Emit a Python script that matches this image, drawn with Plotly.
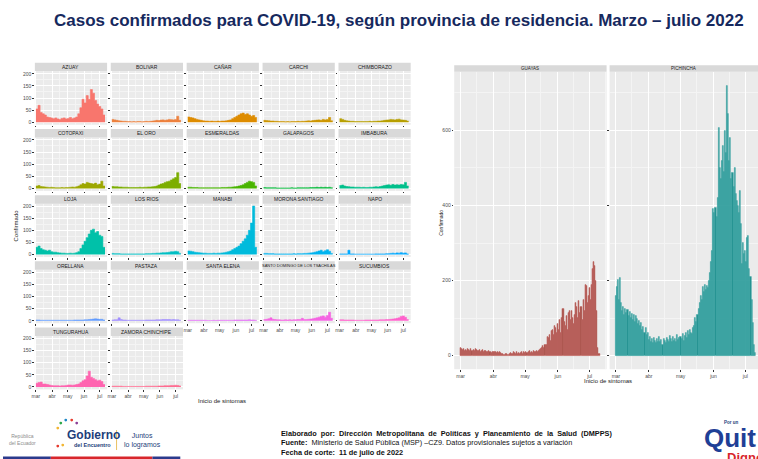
"""
Casos confirmados COVID-19 por provincia de residencia, marzo - julio 2022
Recreated as a faceted Plotly figure (ggplot-like look)
"""

import math
import datetime as dt
import plotly.graph_objects as go

W, H = 758, 459

# ---- data -------------------------------------------------------------
# small multiples: values every 4 days starting 2022-03-01
small_provinces = ['AZUAY', 'BOLIVAR', 'CAÑAR', 'CARCHI', 'CHIMBORAZO',
                   'COTOPAXI', 'EL ORO', 'ESMERALDAS', 'GALAPAGOS', 'IMBABURA',
                   'LOJA', 'LOS RIOS', 'MANABI', 'MORONA SANTIAGO', 'NAPO',
                   'ORELLANA', 'PASTAZA', 'SANTA ELENA', 'SANTO DOMINGO DE LOS TSACHILAS', 'SUCUMBIOS',
                   'TUNGURAHUA', 'ZAMORA CHINCHIPE']
# position of each province in the full (24 province) alphabetical list, for the hue palette
palette_index = [0, 1, 2, 3, 4, 5, 6, 7, 8, 10, 11, 12, 13, 14, 15, 16, 17, 19, 20, 21, 22, 23]

azuay = [55, 70, 40, 35, 30, 22, 20, 18, 15, 18, 14, 12, 16, 18, 14, 16, 20, 15, 18, 22, 35, 60, 95, 80, 110, 95, 135, 120, 90, 75, 65, 55, 30]
bolivar = [12, 10, 8, 6, 5, 4, 4, 3, 3, 2, 3, 2, 3, 3, 2, 3, 4, 3, 4, 5, 6, 8, 7, 9, 10, 8, 10, 12, 11, 10, 12, 25, 8]
canar = [22, 20, 18, 15, 12, 10, 8, 6, 5, 5, 4, 5, 4, 4, 5, 4, 5, 5, 6, 8, 10, 15, 20, 25, 30, 35, 38, 32, 35, 30, 25, 28, 20]
carchi = [8, 7, 6, 5, 5, 4, 4, 3, 3, 3, 2, 3, 2, 3, 3, 3, 4, 3, 4, 4, 5, 6, 5, 7, 8, 9, 10, 8, 12, 10, 12, 20, 6]
chimborazo = [15, 12, 8, 6, 5, 4, 4, 3, 3, 3, 3, 3, 3, 3, 4, 3, 4, 4, 5, 5, 6, 8, 9, 10, 12, 11, 10, 12, 13, 10, 9, 8, 5]
cotopaxi = [10, 12, 8, 7, 6, 5, 4, 5, 4, 3, 3, 3, 4, 3, 4, 4, 5, 6, 5, 7, 10, 15, 20, 18, 25, 22, 20, 18, 22, 15, 18, 30, 10]
el_oro = [8, 7, 7, 6, 6, 5, 5, 5, 4, 4, 4, 4, 4, 5, 4, 5, 5, 6, 6, 7, 8, 10, 14, 18, 20, 25, 28, 30, 35, 40, 45, 65, 20]
esmeraldas = [5, 5, 4, 4, 4, 3, 3, 3, 3, 3, 3, 3, 3, 3, 3, 3, 4, 4, 4, 5, 5, 6, 7, 8, 10, 12, 15, 20, 25, 30, 28, 25, 10]
galapagos = [4, 3, 3, 3, 3, 3, 2, 2, 2, 2, 2, 2, 2, 3, 2, 2, 3, 3, 3, 3, 3, 3, 4, 4, 4, 5, 4, 5, 4, 5, 4, 5, 3]
imbabura = [12, 14, 10, 8, 7, 6, 6, 5, 5, 5, 4, 5, 4, 4, 5, 5, 6, 7, 6, 8, 10, 12, 14, 15, 13, 16, 14, 15, 14, 16, 15, 25, 10]
loja = [30, 35, 25, 20, 18, 15, 18, 12, 10, 10, 8, 7, 6, 6, 5, 5, 6, 5, 6, 8, 12, 25, 40, 55, 70, 85, 100, 105, 90, 95, 80, 75, 30]
los_rios = [5, 4, 4, 4, 3, 3, 3, 3, 3, 3, 3, 3, 3, 3, 3, 3, 4, 4, 4, 5, 5, 6, 6, 7, 8, 8, 9, 10, 12, 12, 14, 12, 5]
manabi = [15, 14, 12, 10, 9, 8, 7, 6, 6, 5, 5, 5, 6, 5, 6, 6, 7, 8, 10, 12, 15, 20, 25, 30, 35, 45, 55, 65, 80, 100, 130, 200, 30]
morona = [5, 5, 4, 4, 4, 3, 3, 3, 3, 3, 3, 3, 3, 3, 4, 3, 4, 4, 4, 5, 5, 6, 7, 8, 10, 12, 15, 18, 12, 16, 20, 14, 5]
napo = [3, 3, 3, 3, 18, 3, 3, 2, 2, 2, 2, 2, 2, 2, 2, 2, 2, 3, 3, 3, 3, 3, 4, 4, 5, 6, 5, 7, 6, 8, 6, 7, 3]
orellana = [3, 3, 2, 2, 2, 2, 2, 2, 2, 2, 2, 2, 2, 2, 2, 2, 2, 2, 3, 3, 3, 3, 3, 4, 4, 5, 6, 7, 8, 7, 6, 6, 3]
pastaza = [3, 4, 4, 12, 5, 3, 3, 2, 2, 2, 2, 2, 2, 2, 2, 2, 3, 3, 3, 3, 3, 4, 4, 4, 5, 5, 5, 5, 4, 5, 4, 4, 2]
santa_elena = [2, 2, 2, 2, 2, 2, 2, 2, 2, 1, 1, 1, 2, 1, 2, 2, 2, 2, 2, 2, 2, 2, 3, 3, 3, 3, 3, 3, 3, 4, 3, 3, 2]
santo_domingo = [5, 6, 8, 12, 6, 5, 4, 4, 3, 3, 4, 3, 4, 3, 4, 4, 5, 5, 10, 5, 5, 6, 7, 8, 10, 12, 15, 18, 20, 15, 22, 35, 10]
sucumbios = [4, 4, 3, 3, 3, 3, 3, 2, 2, 2, 2, 2, 3, 3, 3, 3, 3, 3, 3, 4, 4, 4, 5, 5, 6, 7, 8, 10, 12, 18, 20, 14, 5]
tungurahua = [15, 18, 20, 12, 12, 10, 8, 6, 5, 5, 5, 4, 5, 5, 6, 8, 8, 7, 8, 10, 12, 18, 25, 30, 45, 65, 40, 35, 30, 25, 28, 22, 10]
zamora = [3, 3, 3, 3, 3, 2, 2, 2, 2, 2, 2, 2, 2, 2, 2, 2, 3, 3, 3, 3, 3, 3, 4, 4, 4, 5, 5, 5, 6, 6, 7, 6, 4]

small_values = [azuay, bolivar, canar, carchi, chimborazo, cotopaxi, el_oro, esmeraldas,
                galapagos, imbabura, loja, los_rios, manabi, morona, napo, orellana,
                pastaza, santa_elena, santo_domingo, sucumbios, tungurahua, zamora]

# big panels: daily values 2022-03-01 .. 2022-07-10
guayas = [20, 18, 15, 17, 12, 16, 14, 18, 15, 12, 17, 14, 16, 13, 18, 15, 12, 14, 16, 11, 13, 15, 10, 12, 14, 11, 9, 12, 10, 8, 11,
          10, 9, 11, 8, 10, 7, 9, 8, 6, 5, 3, 2, 4, 6, 3, 5, 8, 6, 4, 9, 7, 5, 10, 6, 8, 4, 7, 9, 6, 10,
          8, 11, 7, 9, 12, 8, 10, 7, 13, 9, 11, 14, 10, 12, 15, 18, 22, 25, 20, 30, 28, 50, 48, 55, 40, 65, 70, 55, 80, 75, 60,
          85, 70, 95, 60, 100, 125, 90, 80, 105, 70, 115, 120, 95, 120, 100, 85, 110, 140, 130, 100, 145, 115, 130, 95, 150, 120, 190, 185, 140, 160,
          180, 150, 190, 230, 250, 240, 200, 120, 20, 5]
pichincha = [160, 183, 201, 150, 206, 140, 120, 130, 110, 125, 115, 122, 105, 118, 100, 112, 95, 108, 90, 105, 98, 85, 92, 80, 87, 70, 78, 62, 75, 55, 60,
             42, 50, 38, 45, 35, 48, 40, 33, 44, 38, 50, 36, 42, 30, 45, 39, 35, 48, 41, 37, 52, 44, 36, 50, 40, 46, 38, 55, 42, 48,
             50, 45, 58, 40, 52, 60, 48, 67, 55, 70, 62, 58, 75, 80, 100, 90, 110, 125, 140, 160, 150, 183, 170, 190, 175, 185, 180, 200, 220, 250, 280,
             390, 380, 395, 370, 420, 607, 500, 470, 520, 560, 490, 600, 540, 718, 643, 520, 580, 470, 487, 450, 500, 430, 413, 400, 380, 440, 350, 244, 300, 270,
             280, 250, 313, 320, 230, 210, 150, 87, 30, 8]

month_ticks = ['2022-03-01', '2022-04-01', '2022-05-01', '2022-06-01', '2022-07-01']
month_labels = ['mar', 'abr', 'may', 'jun', 'jul']


# ---- helpers ------------------------------------------------------------
def hue_color(h, c=100, l=65):
    # ggplot2 hue_pal(): polar Luv -> sRGB
    u = c * math.cos(math.radians(h))
    v = c * math.sin(math.radians(h))
    xn, yn, zn = 95.047, 100.0, 108.883
    un = 4 * xn / (xn + 15 * yn + 3 * zn)
    vn = 9 * yn / (xn + 15 * yn + 3 * zn)
    y = yn * ((l + 16) / 116) ** 3
    up = u / (13 * l) + un
    vp = v / (13 * l) + vn
    x = y * 9 * up / (4 * vp)
    z = y * (12 - 3 * up - 20 * vp) / (4 * vp)
    x, y, z = x / 100, y / 100, z / 100
    rgb = [3.2404542 * x - 1.5371385 * y - 0.4985314 * z,
           -0.9692660 * x + 1.8760108 * y + 0.0415560 * z,
           0.0556434 * x - 0.2040259 * y + 1.0572252 * z]

    def gam(t):
        t = max(0.0, min(1.0, t))
        return 12.92 * t if t <= 0.0031308 else 1.055 * t ** (1 / 2.4) - 0.055
    return '#%02x%02x%02x' % tuple(int(round(255 * gam(t))) for t in rgb)


def px(x):
    return x / W


def py(y):
    return 1 - y / H


def axis_key(kind, n):
    return kind + ('' if n == 1 else str(n))


start = dt.date(2022, 3, 1)
small_dates = [start + dt.timedelta(days=4 * k) for k in range(len(azuay))]
small_dates_closed = small_dates + [start + dt.timedelta(days=4 * len(azuay))]
daily_dates = [start + dt.timedelta(days=k) for k in range(len(guayas))]

grid = dict(gridcolor='white', gridwidth=0.7, zeroline=False, showline=False,
            ticks='outside', ticklen=1.5, tickcolor='#333333', tickwidth=0.5,
            tickfont=dict(size=5, color='#4D4D4D', family='Liberation Sans'))
minor_x = dict(tickvals=['2022-03-16', '2022-04-16', '2022-05-16', '2022-06-16', '2022-07-16'],
               showgrid=True, gridcolor='#F4F4F4', gridwidth=0.4, ticks='')

fig = go.Figure()
layout = {}
shapes = []
annotations = []

# ---- small multiples ------------------------------------------------------
col_w, col_step = 72.5, 76.2
row_step, strip_h, plot_h = 66.3, 8.5, 53.5
last_row = {0: 4, 1: 4, 2: 3, 3: 3, 4: 3}

for i, (name, vals) in enumerate(zip(small_provinces, small_values)):
    n = i + 1
    r, c = divmod(i, 5)
    x0 = 32 + c * col_step
    x1 = x0 + col_w
    s_top = 62 + r * row_step
    p_top = s_top + strip_h
    p_bot = p_top + plot_h
    color = hue_color(15 + 15 * palette_index[i])

    fig.add_trace(go.Scatter(
        x=small_dates_closed, y=vals + [vals[-1]],
        mode='lines', line=dict(color=color, width=0.6, shape='hv'),
        fill='tozeroy', fillcolor=color, showlegend=False,
        xaxis=axis_key('x', n), yaxis=axis_key('y', n),
        hovertemplate=name + '<br>%{x}<br>%{y}<extra></extra>'
    ))

    layout[axis_key('xaxis', n)] = dict(
        grid, domain=[px(x0), px(x1)], anchor=axis_key('y', n), type='date',
        range=['2022-02-27', '2022-07-15'], tickmode='array',
        tickvals=month_ticks, ticktext=month_labels,
        showticklabels=(r == last_row[c]), minor=minor_x)
    layout[axis_key('yaxis', n)] = dict(
        grid, domain=[py(p_bot), py(p_top)], anchor=axis_key('x', n),
        range=[-10, 210], tickmode='array', tickvals=[0, 50, 100, 150, 200],
        showticklabels=(c == 0),
        minor=dict(tickvals=[25, 75, 125, 175], showgrid=True, gridcolor='#F4F4F4',
                   gridwidth=0.4, ticks=''))

    shapes.append(dict(type='rect', xref='paper', yref='paper', layer='below',
                       x0=px(x0), x1=px(x1), y0=py(p_top), y1=py(s_top),
                       fillcolor='#D9D9D9', line=dict(width=0)))
    annotations.append(dict(text=name, x=px((x0 + x1) / 2), y=py(s_top + strip_h / 2),
                            xref='paper', yref='paper', showarrow=False,
                            xanchor='center', yanchor='middle',
                            font=dict(size=5 if len(name) < 20 else 4, color='#1A1A1A',
                                      family='Liberation Sans')))

# ---- big panels ---------------------------------------------------------
big = [('GUAYAS', guayas, 453, 606, ['2022-02-23', '2022-07-17'], '#A8524C', '#C46A64'),
       ('PICHINCHA', pichincha, 609, 758, ['2022-02-23', '2022-07-13'], '#23918F', '#3FA9A7')]
b_strip, b_top, b_bot = 64.5, 71, 369

for j, (name, vals, x0, x1, xr, fill, edge) in enumerate(big):
    n = len(small_provinces) + j + 1
    fig.add_trace(go.Bar(
        x=daily_dates, y=vals, width=86400000,
        marker=dict(color=fill, line=dict(color=edge, width=0.5)),
        showlegend=False, xaxis=axis_key('x', n), yaxis=axis_key('y', n),
        hovertemplate=name + '<br>%{x}<br>%{y}<extra></extra>'
    ))
    layout[axis_key('xaxis', n)] = dict(
        grid, domain=[px(x0), px(x1)], anchor=axis_key('y', n), type='date',
        range=xr, tickmode='array', tickvals=month_ticks, ticktext=month_labels,
        minor=minor_x)
    layout[axis_key('yaxis', n)] = dict(
        grid, domain=[py(b_bot), py(b_top)], anchor=axis_key('x', n),
        range=[-36, 756], tickmode='array', tickvals=[0, 200, 400, 600],
        showticklabels=(j == 0),
        minor=dict(tickvals=[100, 300, 500, 700], showgrid=True, gridcolor='#F4F4F4',
                   gridwidth=0.4, ticks=''))
    shapes.append(dict(type='rect', xref='paper', yref='paper', layer='below',
                       x0=px(x0), x1=px(x1), y0=py(b_top), y1=py(b_strip),
                       fillcolor='#D9D9D9', line=dict(width=0)))
    annotations.append(dict(text=name, x=px((x0 + x1) / 2), y=py((b_strip + b_top) / 2),
                            xref='paper', yref='paper', showarrow=False,
                            xanchor='center', yanchor='middle',
                            font=dict(size=4.5, color='#1A1A1A', family='Liberation Sans')))


# ---- texts ----------------------------------------------------------------
def label(text, x, y, size, color='#1A1A1A', xanchor='center', angle=0,
          family='Liberation Sans'):
    annotations.append(dict(text=text, x=px(x), y=py(y), xref='paper', yref='paper',
                            showarrow=False, xanchor=xanchor, yanchor='middle',
                            textangle=angle, font=dict(size=size, color=color, family=family)))


label('<b>Casos confirmados para COVID-19, según provincia de residencia. Marzo – julio 2022</b>',
      398, 20, 17, color='#16295E', family='Liberation Sans, Arial')
label('Inicio de sintomas', 220, 401, 6)
label('Confirmado', 13, 225, 6, angle=-90)
label('Inicio de sintomas', 607, 381, 6)
label('Confirmado', 439, 222, 5, angle=-90)

narrow = 'Liberation Sans Narrow, Arial Narrow, Liberation Sans'
label('<b>Elaborado  por:  Dirección  Metropolitana  de  Políticas  y  Planeamiento  de  la  Salud  (DMPPS)</b>',
      277, 433, 7.3, color='#111111', xanchor='left', family=narrow)
label('<b>Fuente:</b>  Ministerio de Salud Pública (MSP) –CZ9. Datos provisionales sujetos a variación',
      277, 442.5, 7.3, color='#111111', xanchor='left', family=narrow)
label('<b>Fecha de corte:  11 de julio de 2022</b>',
      277, 452, 7.3, color='#111111', xanchor='left', family=narrow)

# logos (text approximations)
label('República<br>del Ecuador', 4, 439, 5, color='#8C8C8C', xanchor='left')
label('<b>Gobierno</b>', 62, 435, 12, color='#1D3E7A', xanchor='left')
label('<b>del Encuentro</b>', 69, 445, 5.5, color='#1D3E7A', xanchor='left')
label('Juntos<br>lo logramos', 119, 440, 7, color='#1D3E7A', xanchor='left')
label('<b>Por un</b>', 722, 422, 4.5, color='#1D3E7A', xanchor='left')
label('<b>Quit</b>', 702, 438, 26, color='#1F3F96', xanchor='left')
label('<b>Digno</b>', 725, 457, 13, color='#D8262C', xanchor='left')
shapes.append(dict(type='line', xref='paper', yref='paper', x0=px(114), x1=px(114),
                   y0=py(430), y1=py(450), line=dict(color='#E3B23C', width=0.8)))
for cx, cy, col in [(55, 428, '#F2B632'), (58, 423, '#2BA84A'), (63, 420, '#1E88C7'),
                    (69, 420, '#E63A2E'), (74, 423, '#8B3E96'), (55, 446, '#E63A2E'), (60, 445, '#F2B632')]:
    shapes.append(dict(type='circle', xref='paper', yref='paper',
                       x0=px(cx - 1.4), x1=px(cx + 1.4), y0=py(cy + 1.4), y1=py(cy - 1.4),
                       fillcolor=col, line=dict(width=0)))

# bottom band
for bx0, bx1, col in [(0, 48, '#2B3A8C'), (48, 150, '#D8262C'), (150, 178, '#2B3A8C')]:
    shapes.append(dict(type='rect', xref='paper', yref='paper', x0=px(bx0), x1=px(bx1),
                       y0=0, y1=py(456.5), fillcolor=col, line=dict(width=0)))

fig.update_layout(
    width=W, height=H,
    margin=dict(l=0, r=0, t=0, b=0),
    paper_bgcolor='white', plot_bgcolor='#EBEBEB',
    bargap=0, showlegend=False,
    shapes=shapes, annotations=annotations,
    **layout
)

# page body has a default margin; drop it so the figure sits at the window's origin
fig.write_html('out.html', config={'displayModeBar': False},
               post_script="document.body.style.margin='0';document.body.style.overflow='hidden';")
